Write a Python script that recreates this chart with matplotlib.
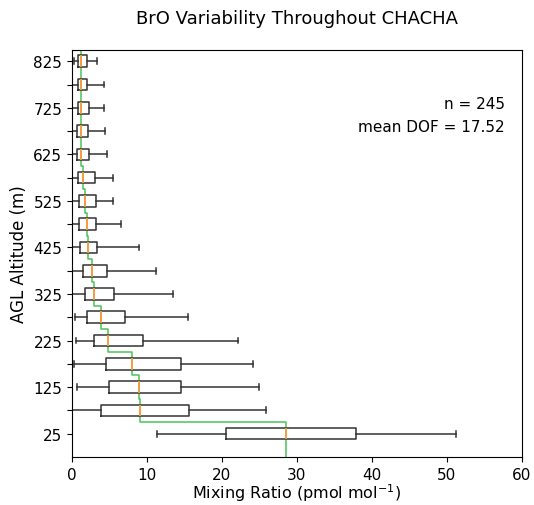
import numpy as np
import matplotlib
matplotlib.use("Agg")
import matplotlib.pyplot as plt

# altitude bins (m AGL), bottom to top
altitudes = [25, 75, 125, 175, 225, 275, 325, 375, 425, 475, 525, 575, 625, 675, 725, 775, 825]

# box statistics (pmol/mol)
whisker_lo = [11.3, -0.5, 0.7, 0.3, 0.5, 0.36, -0.5, -0.5, -0.5, -0.5, -0.5, -0.5, -0.5, -0.5, -0.5, 0.05, 0.3]
q1 = [20.5, 3.9, 4.9, 4.5, 2.9, 1.96, 1.7, 1.47, 1.12, 0.92, 0.93, 0.76, 0.63, 0.63, 0.76, 0.76, 0.76]
medians = [28.5, 9.1, 8.9, 8.0, 4.85, 3.8, 2.9, 2.72, 2.14, 1.96, 1.7, 1.52, 1.2, 1.2, 1.2, 1.2, 1.2]
q3 = [37.9, 15.6, 14.5, 14.5, 9.5, 7.1, 5.6, 4.72, 3.34, 3.16, 3.2, 3.07, 2.27, 2.14, 2.3, 2.0, 2.0]
whisker_hi = [51.2, 25.9, 24.9, 24.1, 22.1, 15.5, 13.5, 11.2, 8.9, 6.5, 5.5, 5.5, 4.7, 4.37, 4.2, 4.2, 3.3]

n_profiles = 245
mean_dof = 17.52

stats = []
for i in range(len(altitudes)):
    stats.append({
        "med": medians[i], "q1": q1[i], "q3": q3[i],
        "whislo": whisker_lo[i], "whishi": whisker_hi[i], "fliers": [],
    })

fig, ax = plt.subplots(figsize=(5.34, 5.06), dpi=100)
fig.subplots_adjust(left=0.135, right=0.977, bottom=0.095, top=0.9)

ax.bxp(stats, positions=altitudes, widths=25, vert=False, showfliers=False,
       boxprops=dict(color="#333333", linewidth=1.1),
       whiskerprops=dict(color="#333333", linewidth=1.1),
       capprops=dict(color="#333333", linewidth=1.1),
       medianprops=dict(color="#ff9a3c", linewidth=1.3))

# median profile drawn as a vertical step line, one segment per 50 m layer
prof_x, prof_y = [], []
for i, a in enumerate(altitudes):
    prof_x += [medians[i], medians[i]]
    prof_y += [a - 25 if i > 0 else -30, a + 25]
ax.plot(prof_x, prof_y, color="#4cc35a", linewidth=1.1, zorder=1.5)

ax.set_xlim(0, 60)
ax.set_ylim(-25, 850)
ax.set_xticks(np.arange(0, 61, 10))
ax.set_yticks(altitudes)
ax.set_yticklabels([str(a) if i % 2 == 0 else "" for i, a in enumerate(altitudes)])
ax.tick_params(labelsize=11)

ax.set_xlabel("Mixing Ratio (pmol mol$^{-1}$)", fontsize=11.5, labelpad=0)
ax.set_ylabel("AGL Altitude (m)", fontsize=12)
ax.set_title("BrO Variability Throughout CHACHA", fontsize=13, pad=19)

ax.text(0.963, 0.885, f"n = {n_profiles}\nmean DOF = {mean_dof}", transform=ax.transAxes,
        ha="right", va="top", fontsize=11, linespacing=1.6)

fig.savefig("out.png", dpi=100)
